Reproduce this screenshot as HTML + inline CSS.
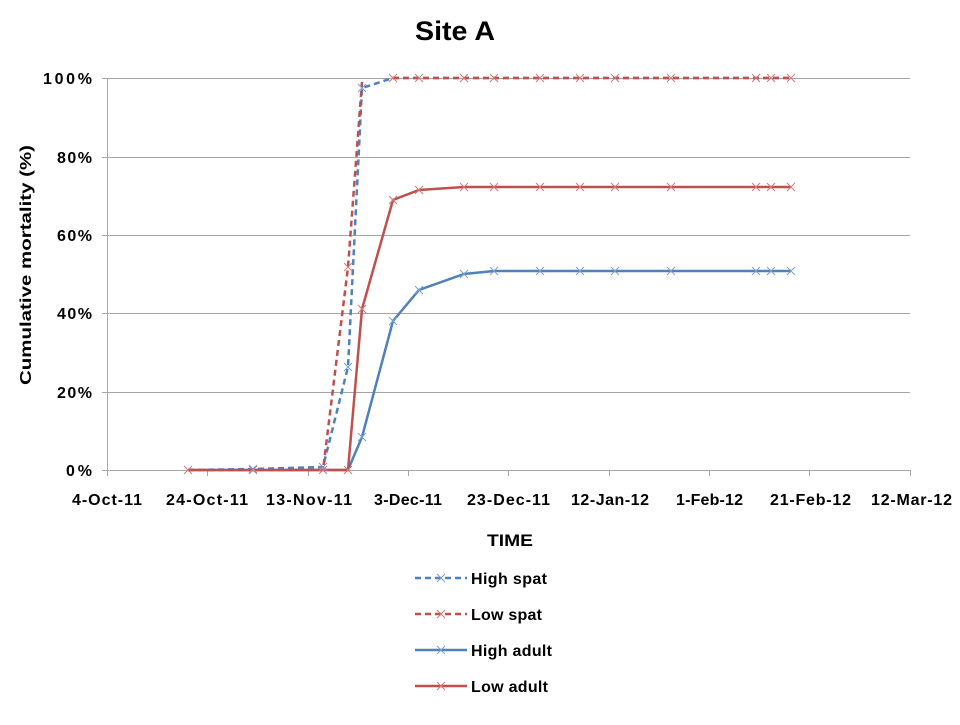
<!DOCTYPE html>
<html><head><style>
body{margin:0;background:#fff;}
svg text{font-family:"Liberation Sans",Arial,sans-serif;font-weight:bold;}
</style></head><body>
<svg width="960" height="720" xmlns="http://www.w3.org/2000/svg">
<rect width="960" height="720" fill="#fff"/>
<text x="415" y="40" font-size="27" textLength="80" lengthAdjust="spacingAndGlyphs">Site A</text>
<g stroke="#a6a6a6" stroke-width="1">
<line x1="102" y1="78.5" x2="910" y2="78.5"/>
<line x1="102" y1="157.5" x2="910" y2="157.5"/>
<line x1="102" y1="235.5" x2="910" y2="235.5"/>
<line x1="102" y1="313.5" x2="910" y2="313.5"/>
<line x1="102" y1="392.5" x2="910" y2="392.5"/>
<line x1="102" y1="470.5" x2="910" y2="470.5"/>
<line x1="107.5" y1="78" x2="107.5" y2="470"/>
<line x1="107.5" y1="470" x2="107.5" y2="476"/>
<line x1="207.5" y1="470" x2="207.5" y2="476"/>
<line x1="308.5" y1="470" x2="308.5" y2="476"/>
<line x1="408.5" y1="470" x2="408.5" y2="476"/>
<line x1="508.5" y1="470" x2="508.5" y2="476"/>
<line x1="609.5" y1="470" x2="609.5" y2="476"/>
<line x1="709.5" y1="470" x2="709.5" y2="476"/>
<line x1="809.5" y1="470" x2="809.5" y2="476"/>
<line x1="910.5" y1="470" x2="910.5" y2="476"/>
</g>
<g font-size="16" lengthAdjust="spacingAndGlyphs">
<text x="43" y="84" textLength="49">100%</text>
<text x="57" y="163" textLength="35">80%</text>
<text x="57" y="241" textLength="35">60%</text>
<text x="57" y="319" textLength="35">40%</text>
<text x="57" y="398" textLength="35">20%</text>
<text x="66" y="476" textLength="26">0%</text>
</g>
<g font-size="16" lengthAdjust="spacingAndGlyphs">
<text x="72" y="505" textLength="70">4-Oct-11</text>
<text x="166" y="505" textLength="82">24-Oct-11</text>
<text x="266" y="505" textLength="86">13-Nov-11</text>
<text x="374" y="505" textLength="68">3-Dec-11</text>
<text x="467" y="505" textLength="83">23-Dec-11</text>
<text x="571" y="505" textLength="78">12-Jan-12</text>
<text x="676" y="505" textLength="67">1-Feb-12</text>
<text x="770" y="505" textLength="81">21-Feb-12</text>
<text x="871" y="505" textLength="81">12-Mar-12</text>
</g>
<text x="487" y="546" font-size="17" textLength="46" lengthAdjust="spacingAndGlyphs">TIME</text>
<text transform="translate(31,385) rotate(-90)" font-size="16" textLength="240" lengthAdjust="spacingAndGlyphs">Cumulative mortality (%)</text>

<defs>
<path id="xb" d="M-4,-4L4,4M-4,4L4,-4" stroke="#7a9fd0" stroke-width="1" fill="none"/>
<path id="xr" d="M-4,-4L4,4M-4,4L4,-4" stroke="#d07a78" stroke-width="1" fill="none"/>
</defs>

<polyline fill="none" stroke="#4f81bd" stroke-width="2.5" points="188,470 253,470 323,470 348,470 362,437 393,321 419,290 464,274 494,271 540,271 580,271 615,271 671,271 756,271 771,271 791,271"/>
<polyline fill="none" stroke="#c0504d" stroke-width="2.5" points="188,470 253,470 323,470 348,470 362,309 393,200 419,190 464,187 494,187 540,187 580,187 615,187 671,187 756,187 771,187 791,187"/>
<polyline fill="none" stroke="#4f81bd" stroke-width="2.5" stroke-dasharray="6,4" points="188,470 253,469 323,467 348,367 362,88 393,78 419,78 464,78 494,78 540,78 580,78 615,78 671,78 756,78 771,78 791,78"/>
<polyline fill="none" stroke="#c0504d" stroke-width="2.5" stroke-dasharray="6,4" points="188,470 253,470 323,470 348,267 362,82"/>
<polyline fill="none" stroke="#c0504d" stroke-width="2.5" stroke-dasharray="6,4" points="393,78 419,78 464,78 494,78 540,78 580,78 615,78 671,78 756,78 771,78 791,78"/>

<g>
<use href="#xb" x="362" y="437"/><use href="#xb" x="393" y="321"/><use href="#xb" x="419" y="290"/><use href="#xb" x="464" y="274"/><use href="#xb" x="494" y="271"/><use href="#xb" x="540" y="271"/><use href="#xb" x="580" y="271"/><use href="#xb" x="615" y="271"/><use href="#xb" x="671" y="271"/><use href="#xb" x="756" y="271"/><use href="#xb" x="771" y="271"/><use href="#xb" x="791" y="271"/>
<use href="#xr" x="362" y="309"/><use href="#xr" x="393" y="200"/><use href="#xr" x="419" y="190"/><use href="#xr" x="464" y="187"/><use href="#xr" x="494" y="187"/><use href="#xr" x="540" y="187"/><use href="#xr" x="580" y="187"/><use href="#xr" x="615" y="187"/><use href="#xr" x="671" y="187"/><use href="#xr" x="756" y="187"/><use href="#xr" x="771" y="187"/><use href="#xr" x="791" y="187"/>
<use href="#xb" x="348" y="367"/><use href="#xb" x="362" y="88"/><use href="#xb" x="323" y="467"/><use href="#xb" x="253" y="469"/>
<use href="#xr" x="348" y="267"/><use href="#xr" x="188" y="470"/><use href="#xr" x="253" y="470"/><use href="#xr" x="323" y="470"/><use href="#xr" x="348" y="470"/>
<use href="#xr" x="393" y="78"/><use href="#xr" x="419" y="78"/><use href="#xr" x="464" y="78"/><use href="#xr" x="494" y="78"/><use href="#xr" x="540" y="78"/><use href="#xr" x="580" y="78"/><use href="#xr" x="615" y="78"/><use href="#xr" x="671" y="78"/><use href="#xr" x="756" y="78"/><use href="#xr" x="771" y="78"/><use href="#xr" x="791" y="78"/>
</g>

<g stroke-width="2.5" fill="none">
<line x1="415" y1="578" x2="467" y2="578" stroke="#4f81bd" stroke-dasharray="6,4"/>
<line x1="415" y1="614" x2="467" y2="614" stroke="#c0504d" stroke-dasharray="6,4"/>
<line x1="415" y1="650" x2="467" y2="650" stroke="#4f81bd"/>
<line x1="415" y1="686" x2="467" y2="686" stroke="#c0504d"/>
</g>
<use href="#xb" x="441" y="578"/><use href="#xr" x="441" y="614"/><use href="#xb" x="441" y="650"/><use href="#xr" x="441" y="686"/>
<g font-size="16" lengthAdjust="spacingAndGlyphs">
<text x="471" y="584" textLength="76">High spat</text>
<text x="471" y="620" textLength="71">Low spat</text>
<text x="471" y="656" textLength="81">High adult</text>
<text x="471" y="692" textLength="77">Low adult</text>
</g>
</svg>
</body></html>
